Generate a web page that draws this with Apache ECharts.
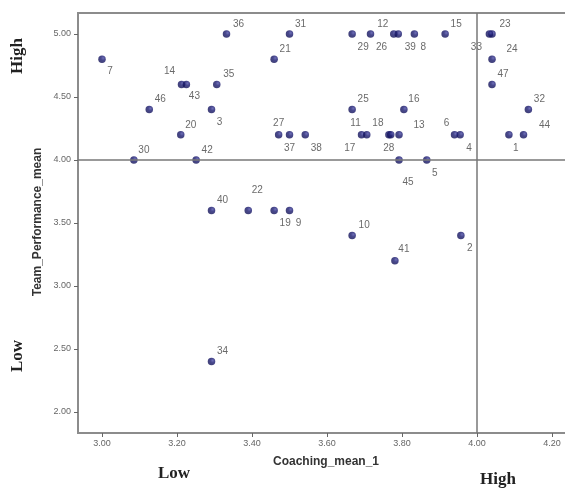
<!DOCTYPE html>
<html>
<head>
<meta charset="utf-8">
<script src="https://cdn.jsdelivr.net/npm/echarts@6/dist/echarts.min.js"></script>
<style>html,body{margin:0;padding:0;background:#fff}#c{width:565px;height:489px}</style>
</head>
<body>
<div id="c"></div>
<script>
// ---- data ----
const caseIds = [1,2,3,4,5,6,7,8,9,10,11,12,13,14,15,16,17,18,19,20,21,22,23,24,25,26,27,28,29,30,31,32,33,34,35,36,37,38,39,40,41,42,43,44,45,46,47];
const coachingMean = [4.085,3.957,3.292,3.955,3.866,3.940,3.000,3.833,3.500,3.667,3.692,3.778,3.792,3.212,3.915,3.805,3.706,3.765,3.459,3.210,3.459,3.390,4.040,4.040,3.667,3.716,3.471,3.770,3.667,3.085,3.500,4.137,4.033,3.292,3.306,3.332,3.500,3.542,3.790,3.292,3.781,3.251,3.225,4.124,3.792,3.126,4.040];
const performanceMean = [4.20,3.40,4.40,4.20,4.00,4.20,4.80,5.00,3.60,3.40,4.20,5.00,4.20,4.60,5.00,4.40,4.20,4.20,3.60,4.20,4.80,3.60,5.00,4.80,4.40,5.00,4.20,4.20,5.00,4.00,5.00,4.40,5.00,2.40,4.60,5.00,4.20,4.20,5.00,3.60,3.20,4.00,4.60,4.20,4.00,4.40,4.60];
const xTicks = [3.0,3.2,3.4,3.6,3.8,4.0,4.2];
const yTicks = [2.0,2.5,3.0,3.5,4.0,4.5,5.0];
const refX = 4.0, refY = 4.0;

// ---- label placement (style only) ----
const labelOffset = {
  1:[7,13],2:[9,13],3:[8,13],4:[9,13],5:[8,13],6:[-8,-12],7:[8,12],8:[9,13],9:[9,13],10:[12,-10],
  11:[-6,-12],12:[-11,-10],13:[20,-10],14:[-12,-13],15:[11,-10],16:[10,-10],17:[-17,13],18:[-11,-12],
  19:[11,13],20:[10,-10],21:[11,-10],22:[9,-20],23:[13,-10],24:[20,-10],25:[11,-10],26:[11,13],
  27:[0,-12],28:[-2,13],29:[11,13],30:[10,-10],31:[11,-10],32:[11,-10],33:[-13,13],34:[11,-10],
  35:[12,-10],36:[12,-10],37:[0,13],38:[11,13],39:[12,13],40:[11,-10],41:[9,-12],42:[11,-10],
  43:[8,12],44:[21,-10],45:[9,22],46:[11,-10],47:[11,-10]
};

const points = caseIds.map((id,i)=>({
  value:[coachingMean[i], performanceMean[i]],
  label:{offset: labelOffset[id] || [10,-10], formatter: String(id)}
}));

const axisCol = '#8c8c8c';
const chart = echarts.init(document.getElementById('c'), null, {renderer:'canvas'});
chart.setOption({
  animation:false,
  backgroundColor:'#fff',
  grid:{left:78, top:13, width:497, height:420, outerBoundsMode:'none', containLabel:false, show:true, borderColor:axisCol, borderWidth:2, backgroundColor:'transparent'},
  xAxis:{
    type:'value', min:2.936, max:4.2613,
    axisLine:{show:true, onZero:false, lineStyle:{color:axisCol, width:2}},
    axisTick:{show:true, length:4, customValues:xTicks, lineStyle:{color:'#666'}},
    axisLabel:{customValues:xTicks, formatter:v=>v.toFixed(2), fontSize:9, color:'#666', margin:6, fontFamily:'Liberation Sans Narrow, Arial Narrow, Liberation Sans, sans-serif'},
    splitLine:{show:false}
  },
  yAxis:{
    type:'value', min:1.8333, max:5.1667,
    axisLine:{show:true, onZero:false, lineStyle:{color:axisCol, width:2}},
    axisTick:{show:true, length:4, customValues:yTicks, lineStyle:{color:'#666'}},
    axisLabel:{customValues:yTicks, formatter:v=>v.toFixed(2), fontSize:9, color:'#666', margin:7, fontFamily:'Liberation Sans Narrow, Arial Narrow, Liberation Sans, sans-serif'},
    splitLine:{show:false}
  },
  series:[{
    type:'scatter',
    data:points,
    symbol:'circle',
    symbolSize:7.5,
    itemStyle:{color:{type:'radial',x:0.65,y:0.35,r:0.75,colorStops:[{offset:0,color:'#4a4aa6'},{offset:0.4,color:'#1a1a70'},{offset:1,color:'#101052'}]}},
    label:{show:true, position:'inside', fontSize:10, color:'#444', fontFamily:'Liberation Sans, Arial, sans-serif'},
    markLine:{
      silent:true, symbol:'none', label:{show:false},
      lineStyle:{color:'#777', width:1.5, type:'solid'},
      data:[{xAxis:refX},{yAxis:refY}]
    },
    z:3
  }],
  graphic:[
    {type:'text', x:326, y:462, style:{text:'Coaching_mean_1', font:'bold 12px Liberation Sans, Arial, sans-serif', fill:'#333', align:'center', verticalAlign:'middle'}},
    {type:'text', x:38, y:222, rotation:Math.PI/2, style:{text:'Team_Performance_mean', font:'bold 12px Liberation Sans, Arial, sans-serif', fill:'#333', align:'center', verticalAlign:'middle'}},
    {type:'text', x:18, y:56, rotation:Math.PI/2, style:{text:'High', font:'bold 17px Liberation Serif, Times New Roman, serif', fill:'#222', align:'center', verticalAlign:'middle'}},
    {type:'text', x:18, y:356, rotation:Math.PI/2, style:{text:'Low', font:'bold 17px Liberation Serif, Times New Roman, serif', fill:'#222', align:'center', verticalAlign:'middle'}},
    {type:'text', x:174, y:474, style:{text:'Low', font:'bold 17px Liberation Serif, Times New Roman, serif', fill:'#222', align:'center', verticalAlign:'middle'}},
    {type:'text', x:498, y:480, style:{text:'High', font:'bold 17px Liberation Serif, Times New Roman, serif', fill:'#222', align:'center', verticalAlign:'middle'}}
  ]
});
</script>
</body>
</html>
